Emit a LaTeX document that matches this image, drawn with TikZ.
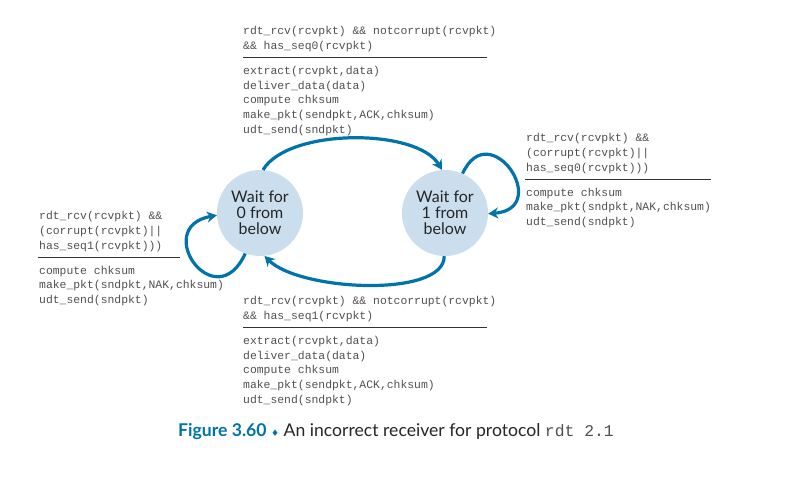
\documentclass[tikz,border=0pt]{standalone}
\usepackage{fontspec}
\setmainfont{Lato}
\newfontfamily\codefont{Liberation Mono}
\newfontfamily\symfont{DejaVu Sans}
\usepackage{tikz}
\usetikzlibrary{arrows.meta,calc,positioning}
\definecolor{fsmblue}{RGB}{0,115,170}
\definecolor{fsmfill}{RGB}{202,222,238}
\definecolor{codegray}{RGB}{80,80,80}

\begin{document}
\begin{tikzpicture}[x=1pt,y=-1pt,
  state/.style={circle,fill=fsmfill,minimum size=86pt,inner sep=0pt,align=center,
    text=black!85,font=\fontsize{16}{15.8}\selectfont},
  code/.style={anchor=north west,inner sep=0pt,align=left,text=codegray,
    font=\codefont\fontsize{11.4}{14.8}\selectfont},
  trans/.style={draw=fsmblue,line width=3.2pt,-{Stealth[length=10pt,width=11pt]}},
  rule/.style={draw=black!80,line width=1.1pt}]
\useasboundingbox (0,0) rectangle (806,491);
% states
\node[state] (S0) at (260,213) {Wait for\\0 from\\below};
\node[state] (S1) at (445,213) {Wait for\\1 from\\below};
% transitions
\draw[trans] (S0.86) .. controls +(25,-42) and +(-25,-42) .. (S1.94);
\draw[trans] (S1.-91) .. controls +(0,42) and +(35,35) .. (S0.-84);
\draw[trans] (S0.-110) .. controls +(-30,65) and +(-66,12) .. (S0.183);
\draw[trans] (S1.66) .. controls +(27,-59) and +(65,-5) .. (S1.-1);
% top label
\node[code] (G0) at (243,26) {rdt\_rcv(rcvpkt) \&\& notcorrupt(rcvpkt)\\\&\& has\_seq0(rcvpkt)};
\node[code,below=14pt of G0.south west,anchor=north west] (A0) {extract(rcvpkt,data)\\deliver\_data(data)\\compute chksum\\make\_pkt(sendpkt,ACK,chksum)\\udt\_send(sndpkt)};
\draw[rule] ([yshift=8pt]A0.north west) -- ++(244,0);
% left label
\node[code] (G1) at (39,211) {rdt\_rcv(rcvpkt) \&\&\\(corrupt(rcvpkt)||\\has\_seq1(rcvpkt)))};
\node[code,below=14pt of G1.south west,anchor=north west] (A1) {compute chksum\\make\_pkt(sndpkt,NAK,chksum)\\udt\_send(sndpkt)};
\draw[rule] ([yshift=8pt,xshift=-1pt]A1.north west) -- ++(142,0);
% right label
\node[code] (G2) at (526,133) {rdt\_rcv(rcvpkt) \&\&\\(corrupt(rcvpkt)||\\has\_seq0(rcvpkt)))};
\node[code,below=14pt of G2.south west,anchor=north west] (A2) {compute chksum\\make\_pkt(sndpkt,NAK,chksum)\\udt\_send(sndpkt)};
\draw[rule] ([yshift=8pt,xshift=-1pt]A2.north west) -- ++(186,0);
% bottom label
\node[code] (G3) at (243,296) {rdt\_rcv(rcvpkt) \&\& notcorrupt(rcvpkt)\\\&\& has\_seq1(rcvpkt)};
\node[code,below=14pt of G3.south west,anchor=north west] (A3) {extract(rcvpkt,data)\\deliver\_data(data)\\compute chksum\\make\_pkt(sendpkt,ACK,chksum)\\udt\_send(sndpkt)};
\draw[rule] ([yshift=8pt]A3.north west) -- ++(244,0);
% caption
\node[text=black!85,font=\fontsize{17.6}{20}\selectfont] (cap) at (396,432)
  {\textcolor{fsmblue}{\textbf{Figure 3.60}} {\symfont\fontsize{9}{10}\selectfont\textcolor{fsmblue}{♦}} An incorrect receiver for protocol {\codefont\fontsize{16.4}{18}\selectfont\color{codegray}rdt 2.1}};
\end{tikzpicture}
\end{document}
